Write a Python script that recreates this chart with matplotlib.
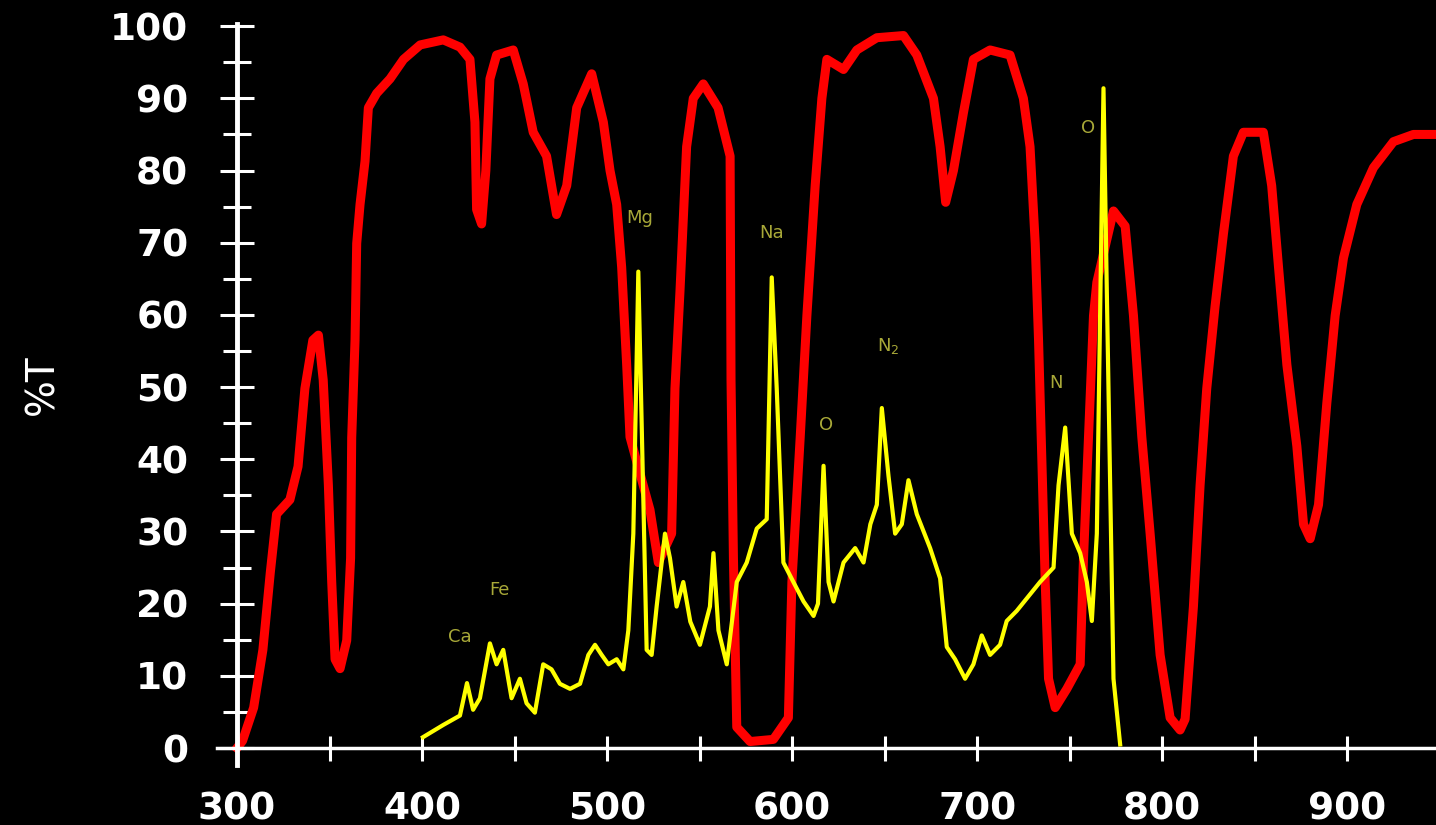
import matplotlib
matplotlib.use("Agg")
import matplotlib.pyplot as plt
from matplotlib.ticker import MultipleLocator

# transmission curve (%T), red
red_x = [300, 303, 309, 314, 318, 321.4, 328.6, 333, 336.7, 341, 344, 346.6, 349.4,
         351.2, 353, 355.7, 359.3, 361.4, 362, 363.8, 364.7, 366.5, 369.2, 371, 375.5,
         382.7, 390, 399, 411.5, 420.5, 425.9, 428.6, 429.5, 432.2, 434.5, 436.7, 440.3,
         449.3, 454.7, 460.1, 467.3, 472.7, 478.2, 483.6, 491.7, 498, 501.6, 505.2, 507.9,
         510.6, 512.4, 516, 523.2, 527.7, 534.9, 536.7, 539.4, 543, 546.6, 552, 560,
         566.5, 567, 568.3, 570.1, 577.3, 589.9, 598, 599.9, 604.4, 608, 612.5, 616.1,
         618.8, 627.8, 635, 645.8, 660.2, 667.4, 676.4, 680, 683, 687.2, 692.6, 698, 707,
         717.8, 725, 728.6, 731.4, 733.2, 735, 736.8, 738.6, 742.2, 748.5, 755.7, 757.5,
         760.2, 762.9, 764.7, 773.7, 780, 784.5, 789, 793.5, 798.9, 804.3, 809.7, 812.4,
         816.9, 820.5, 824.1, 828.6, 833.1, 838.5, 843.9, 854.7, 859.2, 862.9, 867.4,
         872.8, 876.4, 880, 884.5, 889, 893.5, 898, 905.2, 914.2, 925, 935.8, 948]
red_y = [0, 1, 5.6, 13.6, 24.3, 32.4, 34.4, 39, 49.8, 56.5, 57.2, 51, 36.4,
         23, 12.3, 11, 14.9, 26.3, 43, 56.5, 69.9, 75.3, 81.3, 88.7, 90.7,
         92.7, 95.4, 97.4, 98.1, 97.1, 95.4, 86.7, 74.6, 72.6, 80, 92.7, 96,
         96.7, 92, 85.3, 82, 73.9, 77.9, 88.7, 93.4, 86.7, 80, 75.3, 66.6,
         53.1, 43.1, 39.7, 33, 25.7, 29.7, 49.8, 63.2, 83.3, 90, 92, 88.7,
         82, 51, 26.3, 2.9, 0.9, 1.2, 4.2, 23, 43.1, 59.9, 78, 90,
         95.4, 94, 96.7, 98.4, 98.7, 96, 90, 83.3, 75.6, 80, 88, 95.4, 96.7,
         96, 90, 83.3, 69.9, 56.5, 39.7, 23, 9.6, 5.6, 8.2, 11.6, 26.3,
         43.1, 59.9, 64.5, 74.4, 72.3, 59.9, 43.1, 29.7, 12.9, 4.2, 2.5, 4,
         19.6, 36.4, 49.8, 61.2, 71.2, 82, 85.3, 85.3, 77.9, 66.6, 53.1,
         41.8, 31, 29, 33.7, 47.8, 59.9, 67.9, 75.3, 80.4, 84, 85, 85]

# emission spectrum, yellow
yel_x = [400.5, 411.5, 420.5, 424.3, 427.6, 431.3, 436.7, 440.3, 443.9, 448.4, 452.9,
         456.5, 461, 465.5, 470, 474.5, 480, 485.4, 489.9, 493.5, 497.1, 500.7, 505.2,
         508.8, 511.5, 514.2, 516.9, 521.4, 524.1, 526.8, 531.3, 534, 537.6, 541.2, 545,
         550.2, 555.6, 557.5, 560.2, 564.7, 570.1, 575.5, 580.9, 586.3, 589, 591.7, 595.3,
         600.7, 606.2, 611.6, 614, 617, 619.7, 622.4, 627.8, 634.1, 638.6, 642.3, 645.8,
         648.5, 652.1, 655.7, 659.3, 662.9, 667.4, 674.6, 680, 683.6, 688.1, 693.5, 698,
         702.5, 707, 712.4, 716, 721.4, 727.7, 734, 741.3, 744, 747.6, 751.2, 755.7,
         759.3, 762, 764.7, 768.3, 770.1, 771.9, 773.7, 777.3]
yel_y = [1.5, 3.2, 4.5, 9, 5.3, 6.9, 14.5, 11.6, 13.6, 6.9, 9.6,
         6.2, 4.9, 11.6, 10.9, 8.9, 8.2, 8.9, 12.9, 14.3, 12.9, 11.6, 12.3,
         10.9, 16.3, 29.7, 66, 13.6, 12.9, 19.6, 29.7, 26.3, 19.6, 23, 17.5,
         14.3, 19.6, 27, 16.3, 11.6, 23, 25.7, 30.4, 31.7, 65.2, 49.8, 25.7,
         23, 20.3, 18.3, 20, 39.1, 23, 20.3, 25.7, 27.7, 25.7, 31, 33.7,
         47.1, 37.7, 29.7, 31, 37.1, 32.4, 27.7, 23.5, 14, 12.3, 9.6, 11.6,
         15.6, 12.9, 14.3, 17.6, 19, 21, 23, 25, 36.4, 44.4, 29.7, 27,
         23, 17.6, 29.7, 91.4, 63.2, 36.4, 9.6, 0.5]

# element labels
lab_text = ["Ca", "Fe", "Mg", "Na", "O", "N$_2$", "N", "O"]
lab_x = [420.5, 442, 517.8, 589, 618.4, 651.9, 742.7, 760]
lab_y = [15.4, 21.9, 73.4, 71.4, 44.7, 55.7, 50.6, 85.9]

fig = plt.figure(figsize=(14.36, 8.25), dpi=100, facecolor="black")
ax = fig.add_axes([217 / 1436, 60 / 825, 1 - 217 / 1436, 741 / 825])
ax.set_facecolor("black")

ax.plot(red_x, red_y, color="#ff0000", lw=6.5, solid_joinstyle="round", zorder=2)
ax.plot(yel_x, yel_y, color="#ffff00", lw=3, zorder=3)

for t, x, y in zip(lab_text, lab_x, lab_y):
    ax.text(x, y, t, color="#a8a838", fontsize=13, ha="center", va="center", zorder=4)

ax.set_xlim(289.2, 948)
ax.set_ylim(-2.35, 100.3)

for s in ["top", "right"]:
    ax.spines[s].set_visible(False)
ax.spines["left"].set_position(("data", 300))
ax.spines["bottom"].set_position(("data", 0))
ax.spines["left"].set_color("white")
ax.spines["bottom"].set_color("white")
ax.spines["left"].set_linewidth(3.5)
ax.spines["bottom"].set_linewidth(2.5)

ax.xaxis.set_major_locator(MultipleLocator(100))
ax.xaxis.set_minor_locator(MultipleLocator(50))
ax.yaxis.set_major_locator(MultipleLocator(10))
ax.yaxis.set_minor_locator(MultipleLocator(5))

ax.tick_params(axis="y", which="major", direction="inout", length=24, width=2.2,
               colors="white", pad=23, labelsize=27)
ax.tick_params(axis="y", which="minor", direction="inout", length=20, width=2.2,
               colors="white")
ax.tick_params(axis="x", which="both", direction="inout", length=18, width=2.2,
               colors="white", pad=22, labelsize=27)
for lbl in ax.get_xticklabels() + ax.get_yticklabels():
    lbl.set_fontweight("bold")

fig.text(42 / 1436, 1 - 385 / 825, "%T", color="white", fontsize=28,
         rotation=90, ha="center", va="center")

fig.savefig("out.png", dpi=100, facecolor="black")
